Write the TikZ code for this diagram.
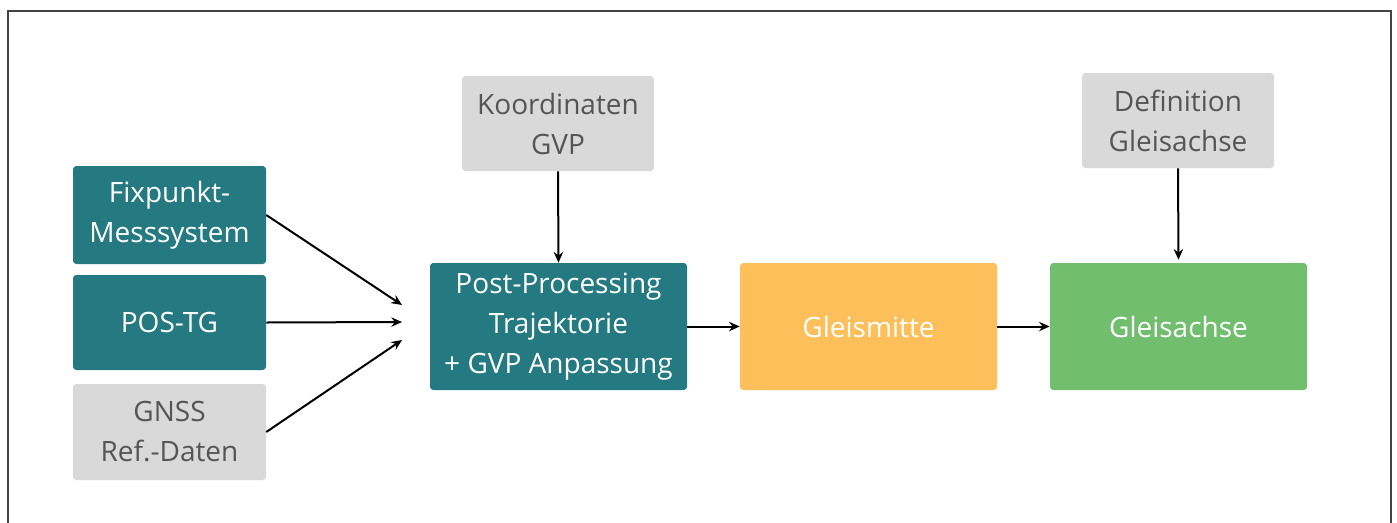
\documentclass[tikz,border=0pt]{standalone}
\usepackage{fontspec}
\setmainfont{Open Sans}
\usetikzlibrary{arrows.meta}
\definecolor{teal1}{HTML}{247A80}
\definecolor{gray1}{HTML}{D9D9D9}
\definecolor{graytext}{HTML}{555555}
\definecolor{orange1}{HTML}{FDBF5A}
\definecolor{green1}{HTML}{71BF6E}
\definecolor{frame1}{HTML}{444444}
\tikzset{
  box/.style={rounded corners=2.5pt, align=center, inner sep=0pt,
    font=\fontsize{21}{30}\selectfont},
  tealbox/.style={box, fill=teal1, text=white},
  graybox/.style={box, fill=gray1, text=graytext},
  orangebox/.style={box, fill=orange1, text=white},
  greenbox/.style={box, fill=green1, text=white},
  conn/.style={line width=1.5pt, -{Stealth[length=8pt,width=7pt]}},
}
\begin{document}
\begin{tikzpicture}[x=0.75pt,y=-0.75pt]
\useasboundingbox (0,0) rectangle (1397,522);
\draw[frame1, line width=1.3pt] (8,524) -- (8,11) -- (1391,11) -- (1391,524);
\node[tealbox, minimum width=193*0.75pt, minimum height=98*0.75pt] (fix) at (169.5,215) {Fixpunkt-\\Messsystem};
\node[tealbox, minimum width=193*0.75pt, minimum height=95*0.75pt] (pos) at (169.5,322.5) {POS-TG};
\node[graybox, minimum width=193*0.75pt, minimum height=96*0.75pt] (gnss) at (169.5,432) {GNSS\\Ref.-Daten};
\node[graybox, minimum width=192*0.75pt, minimum height=95*0.75pt] (koord) at (558,123.5) {Koordinaten\\GVP};
\node[tealbox, minimum width=257*0.75pt, minimum height=127*0.75pt] (post) at (558.5,326.5) {Post-Processing\\Trajektorie\\+ GVP Anpassung};
\node[orangebox, minimum width=257*0.75pt, minimum height=127*0.75pt] (mitte) at (868.5,326.5) {Gleismitte};
\node[greenbox, minimum width=257*0.75pt, minimum height=127*0.75pt] (achse) at (1178.5,326.5) {Gleisachse};
\node[graybox, minimum width=192*0.75pt, minimum height=95*0.75pt] (def) at (1178,120.5) {Definition\\Gleisachse};
\coordinate (in1) at (402,305);
\coordinate (in2) at (402,322);
\coordinate (in3) at (402,340);
\draw[conn] (fix.east) -- (in1);
\draw[conn] (pos.east) -- (in2);
\draw[conn] (gnss.east) -- (in3);
\draw[conn] (koord.south) -- (post.north);
\draw[conn] (post.east) -- (mitte.west);
\draw[conn] (mitte.east) -- (achse.west);
\draw[conn] (def.south) -- ([yshift=3*0.75pt]achse.north);
\end{tikzpicture}
\end{document}
